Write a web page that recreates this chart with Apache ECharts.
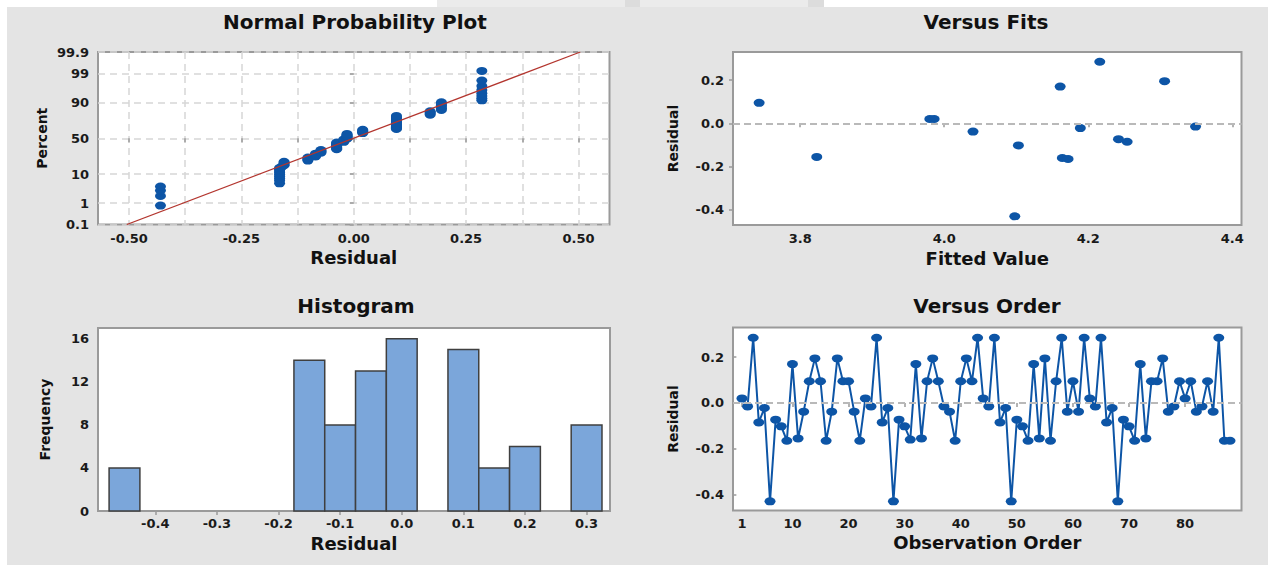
<!DOCTYPE html>
<html><head><meta charset="utf-8">
<script src="https://cdn.jsdelivr.net/npm/echarts@6/dist/echarts.min.js"></script>
<style>html,body{margin:0;padding:0;background:#fff}#c{width:1268px;height:565px}</style>
</head><body><div id="c"></div>
<script>
// ---------- data ----------
const residuals = [
  0.02, -0.015, 0.285, -0.085, -0.022, -0.43, -0.073, -0.102, -0.165, 0.17,
  -0.155, -0.038, 0.095, 0.195, 0.095, -0.165, -0.038, 0.195, 0.095, 0.095,
  -0.038, -0.165, 0.02, -0.015, 0.285, -0.085, -0.022, -0.43, -0.073, -0.102,
  -0.16, 0.17, -0.155, 0.095, 0.195, 0.095, -0.015, -0.038, -0.165, 0.095,
  0.195, 0.095, 0.285, 0.02, -0.015, 0.285, -0.085, -0.022, -0.43, -0.073,
  -0.102, -0.165, 0.17, -0.155, 0.195, -0.165, 0.095, 0.285, -0.038, 0.095,
  -0.038, 0.285, 0.02, -0.015, 0.285, -0.085, -0.022, -0.43, -0.073, -0.102,
  -0.165, 0.17, -0.155, 0.095, 0.095, 0.195, -0.038, -0.015, 0.095, 0.02,
  0.095, -0.038, -0.015, 0.095, -0.038, 0.285, -0.165, -0.165
];
const fitValues    = [3.743, 3.823, 3.980, 3.986, 4.040, 4.098, 4.103, 4.161, 4.164, 4.172, 4.189, 4.216, 4.242, 4.254, 4.306, 4.349];
const fitResiduals = [0.095, -0.155, 0.02, 0.02, -0.038, -0.43, -0.102, 0.17, -0.16, -0.165, -0.022, 0.285, -0.073, -0.085, 0.195, -0.015];
const histBinCenters = [-0.45, -0.15, -0.10, -0.05, 0.00, 0.10, 0.15, 0.20, 0.30];
const histCounts     = [4, 14, 8, 13, 16, 15, 4, 6, 8];
const histBinWidth   = 0.05;
const fitLineResid = [-0.505, 0.504];
const fitLinePct   = [0.1, 99.9];
const probTicks      = [0.1, 1, 10, 50, 90, 99, 99.9];
const probResidTicks = [-0.5, -0.25, 0, 0.25, 0.5];
const probGridX      = [-0.5, -0.375, -0.25, -0.125, 0, 0.125, 0.25, 0.375, 0.5];
const fitsTicks      = [3.8, 4.0, 4.2, 4.4];
const histXTicks     = [-0.4, -0.3, -0.2, -0.1, 0, 0.1, 0.2, 0.3];
const histYTicks     = [0, 4, 8, 12, 16];
const residTicks     = [-0.4, -0.2, 0, 0.2];
const orderTicks     = [1, 10, 20, 30, 40, 50, 60, 70, 80];

// ---------- helpers ----------
// inverse standard normal CDF (probability-scale transform, Acklam)
function probit(p){
  const a=[-3.969683028665376e+01,2.209460984245205e+02,-2.759285104469687e+02,1.383577518672690e+02,-3.066479806614716e+01,2.506628277459239e+00];
  const b=[-5.447609879822406e+01,1.615858368580409e+02,-1.556989798598866e+02,6.680131188771972e+01,-1.328068155288572e+01];
  const c=[-7.784894002430293e-03,-3.223964580411365e-01,-2.400758277161838e+00,-2.549732539343734e+00,4.374664141464968e+00,2.938163982698783e+00];
  const d=[7.784695709041462e-03,3.224671290700398e-01,2.445134137142996e+00,3.754408661907416e+00];
  const pl=0.02425, ph=1-pl; let q,r;
  if(p<pl){q=Math.sqrt(-2*Math.log(p));return (((((c[0]*q+c[1])*q+c[2])*q+c[3])*q+c[4])*q+c[5])/((((d[0]*q+d[1])*q+d[2])*q+d[3])*q+1);}
  if(p<=ph){q=p-0.5;r=q*q;return (((((a[0]*r+a[1])*r+a[2])*r+a[3])*r+a[4])*r+a[5])*q/(((((b[0]*r+b[1])*r+b[2])*r+b[3])*r+b[4])*r+1);}
  q=Math.sqrt(-2*Math.log(1-p));return -(((((c[0]*q+c[1])*q+c[2])*q+c[3])*q+c[4])*q+c[5])/((((d[0]*q+d[1])*q+d[2])*q+d[3])*q+1);
}
const probTickZ = probTicks.map(p => probit(p/100));
const sortedRes = residuals.slice().sort((x,y)=>x-y);
const nObs = sortedRes.length;
// median-rank plotting positions (Minitab normal probability plot)
const normalPoints = sortedRes.map((v,i)=>[v, probit((i+1-0.3)/(nObs+0.4))]);
const fitLineData = fitLineResid.map((v,i)=>[v, probit(fitLinePct[i]/100)]);

const FONT = 'DejaVu Sans';
const BLUE = '#0d55a6';
const ELLIPSE = 'path://M0,5a5,5 0 1,0 10,0a5,5 0 1,0 -10,0z';
const MSIZE = [11, 8];
const tickStyle = (vals)=>({show:true, inside:false, length:4, lineStyle:{color:'#9a9a9a', width:1.5}, customValues: vals});
const labelStyle = (vals, fmt, margin)=>({show:true, color:'#1a1a1a', fontFamily:FONT, fontWeight:'bold', fontSize:13, margin:margin, customValues: vals, formatter: fmt});
const xNameStyle = {fontFamily:FONT, fontWeight:'bold', fontSize:18, color:'#111'};
const yNameStyle = {fontFamily:FONT, fontWeight:'bold', fontSize:14, color:'#111'};
const dashGrid = {show:true, lineStyle:{color:'#d6d6d6', width:1.5, type:[7,5]}};
const noSplit = {show:false};
const titleStyle = {fontFamily:FONT, fontWeight:'bold', fontSize:20, color:'#111'};
const zeroLine = {silent:true, symbol:['none','none'], label:{show:false}, lineStyle:{color:'#b9b9b9', width:2, type:[7,4]}, data:[{yAxis:0}]};
const dotStyle = {color:BLUE, opacity:1};

const option = {
  animation:false,
  backgroundColor:'#e4e4e4',
  title:[
    {text:'Normal Probability Plot', left:355, top:12, textAlign:'center', padding:0, textStyle:titleStyle},
    {text:'Versus Fits', left:986, top:12, textAlign:'center', padding:0, textStyle:titleStyle},
    {text:'Histogram', left:356, top:296, textAlign:'center', padding:0, textStyle:titleStyle},
    {text:'Versus Order', left:987, top:296, textAlign:'center', padding:0, textStyle:titleStyle}
  ],
  grid:[
    {left:98, top:52, width:511.5, height:172.5, show:true, backgroundColor:'#fff', borderColor:'#9a9a9a', borderWidth:2},
    {left:733, top:52, width:508.5, height:173, show:true, backgroundColor:'#fff', borderColor:'#9a9a9a', borderWidth:2},
    {left:98, top:328, width:512, height:183, show:true, backgroundColor:'#fff', borderColor:'#9a9a9a', borderWidth:2},
    {left:733, top:327.5, width:508.5, height:183, show:true, backgroundColor:'#fff', borderColor:'#9a9a9a', borderWidth:2}
  ],
  xAxis:[
    {type:'value', gridIndex:0, min:-0.569, max:0.569, axisLine:{show:false},
     axisTick:tickStyle(probGridX), axisLabel:labelStyle(probResidTicks, v=>v.toFixed(2), 7),
     splitLine:dashGrid, name:'Residual', nameLocation:'middle', nameGap:24, nameTextStyle:xNameStyle},
    {type:'value', gridIndex:1, min:3.7067, max:4.4128, axisLine:{show:false},
     axisTick:tickStyle(fitsTicks), axisLabel:labelStyle(fitsTicks, v=>v.toFixed(1), 7),
     splitLine:noSplit, name:'Fitted Value', nameLocation:'middle', nameGap:24, nameTextStyle:xNameStyle},
    {type:'value', gridIndex:2, min:-0.493, max:0.338, axisLine:{show:false},
     axisTick:tickStyle(histXTicks), axisLabel:labelStyle(histXTicks, v=>v.toFixed(1), 6),
     splitLine:noSplit, name:'Residual', nameLocation:'middle', nameGap:23, nameTextStyle:xNameStyle},
    {type:'value', gridIndex:3, min:-0.6, max:90.05, axisLine:{show:false},
     axisTick:tickStyle(orderTicks), axisLabel:labelStyle(orderTicks, v=>String(v), 6),
     splitLine:noSplit, name:'Observation Order', nameLocation:'middle', nameGap:23, nameTextStyle:xNameStyle}
  ],
  yAxis:[
    {type:'value', gridIndex:0, min:probTickZ[0], max:probTickZ[probTickZ.length-1], axisLine:{show:false},
     axisTick:tickStyle(probTickZ),
     axisLabel:labelStyle(probTickZ, v=>{let bi=0,bd=1e9;probTickZ.forEach((z,i)=>{const dd=Math.abs(z-v);if(dd<bd){bd=dd;bi=i;}});return String(probTicks[bi]);}, 9),
     splitLine:dashGrid, name:'Percent', nameLocation:'middle', nameGap:49, nameTextStyle:yNameStyle},
    {type:'value', gridIndex:1, min:-0.47, max:0.33, axisLine:{show:false},
     axisTick:tickStyle(residTicks), axisLabel:labelStyle(residTicks, v=>v.toFixed(1), 9),
     splitLine:noSplit, name:'Residual', nameLocation:'middle', nameGap:53, nameTextStyle:yNameStyle},
    {type:'value', gridIndex:2, min:0, max:17, axisLine:{show:false},
     axisTick:tickStyle(histYTicks), axisLabel:labelStyle(histYTicks, v=>String(v), 9),
     splitLine:noSplit, name:'Frequency', nameLocation:'middle', nameGap:46, nameTextStyle:yNameStyle},
    {type:'value', gridIndex:3, min:-0.47, max:0.33, axisLine:{show:false},
     axisTick:tickStyle(residTicks), axisLabel:labelStyle(residTicks, v=>v.toFixed(1), 9),
     splitLine:noSplit, name:'Residual', nameLocation:'middle', nameGap:53, nameTextStyle:yNameStyle}
  ],
  series:[
    {type:'scatter', xAxisIndex:0, yAxisIndex:0, data:normalPoints, symbol:ELLIPSE, symbolSize:MSIZE, itemStyle:dotStyle, z:3},
    {type:'line', xAxisIndex:0, yAxisIndex:0, data:fitLineData, symbol:'none', lineStyle:{color:'#b3352e', width:1.2}, z:4},
    {type:'scatter', xAxisIndex:1, yAxisIndex:1, data:fitValues.map((f,i)=>[f, fitResiduals[i]]), symbol:ELLIPSE, symbolSize:MSIZE, itemStyle:dotStyle, markLine:zeroLine, z:3},
    {type:'custom', xAxisIndex:2, yAxisIndex:2, data:histBinCenters.map((c,i)=>[c, histCounts[i]]),
     renderItem:function(params, api){
       const c = api.value(0), h = api.value(1);
       const p0 = api.coord([c - histBinWidth/2, h]);
       const p1 = api.coord([c + histBinWidth/2, 0]);
       return {type:'rect', shape:{x:p0[0], y:p0[1], width:p1[0]-p0[0], height:p1[1]-p0[1]},
               style:{fill:'#7ba6da', stroke:'#3f3f3f', lineWidth:1.5}};
     }},
    {type:'line', xAxisIndex:3, yAxisIndex:3, data:residuals.map((r,i)=>[i+1, r]), symbol:ELLIPSE, symbolSize:MSIZE,
     showAllSymbol:true, lineStyle:{color:BLUE, width:2}, itemStyle:dotStyle, markLine:zeroLine, z:3}
  ],
  graphic:[
    {type:'rect', silent:true, shape:{x:0, y:0, width:1268, height:7}, style:{fill:'#ffffff'}},
    {type:'rect', silent:true, shape:{x:0, y:0, width:7, height:565}, style:{fill:'#ffffff'}},
    {type:'rect', silent:true, shape:{x:437, y:0, width:387, height:7}, style:{fill:'#ebebeb'}},
    {type:'rect', silent:true, shape:{x:625, y:0, width:15, height:7}, style:{fill:'#dcdcdc'}},
    {type:'rect', silent:true, shape:{x:808, y:0, width:16, height:7}, style:{fill:'#dcdcdc'}}
  ]
};
const chart = echarts.init(document.getElementById('c'), null, {renderer:'svg', width:1268, height:565});
chart.setOption(option);
</script>
</body></html>
